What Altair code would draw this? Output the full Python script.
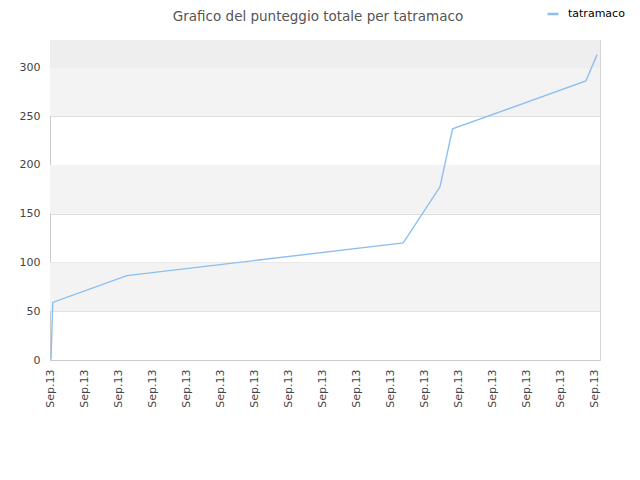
import altair as alt
import pandas as pd

# ---- data ----
series_name = "tatramaco"
x_pos = [0.03, 0.08, 2.26, 10.39, 11.47, 11.84, 15.76, 16.09]
scores = [0.5, 59, 86.5, 120, 177.5, 237, 286, 313]
tick_values = list(range(17))
tick_label = "Sep.13"
y_ticks = [0, 50, 100, 150, 200, 250, 300]
band_lo = [50, 150, 250, 300]
band_hi = [100, 200, 300, 328]
band_fill = ["#f3f3f3", "#f3f3f3", "#f3f3f3", "#eeeeee"]

X_MAX = 550 / 34
Y_MAX = 328

line_df = pd.DataFrame({"x": x_pos, "score": scores, "series": [series_name] * len(x_pos)})
band_df = pd.DataFrame({"lo": band_lo, "hi": band_hi, "fill": band_fill,
                        "x0": [0] * 4, "x1": [X_MAX] * 4})

xscale = alt.Scale(domain=[0, X_MAX], nice=False, zero=False)
yscale = alt.Scale(domain=[0, Y_MAX], nice=False)

x_axis = alt.Axis(values=tick_values, labelExpr=f"'{tick_label}'", labelAngle=270,
                  ticks=False, grid=False, title=None, labelPadding=9,
                  labelFontSize=11, labelColor="#444444", labelFont="DejaVu Sans",
                  domainColor="#cccccc", labelOverlap=False)
y_axis = alt.Axis(values=y_ticks, ticks=False, grid=True,
                  gridColor="#dddddd", title=None, labelPadding=10,
                  labelFontSize=11, labelColor="#444444", labelFont="DejaVu Sans",
                  domainColor="#cccccc", labelOverlap=False)

bands = alt.Chart(band_df).mark_rect().encode(
    x=alt.X("x0:Q", scale=xscale, axis=x_axis),
    x2="x1:Q",
    y=alt.Y("lo:Q", scale=yscale, axis=y_axis),
    y2="hi:Q",
    fill=alt.Fill("fill:N", scale=None),
)

line = alt.Chart(line_df).mark_line(strokeWidth=1.4, interpolate="linear").encode(
    x=alt.X("x:Q", scale=xscale, axis=x_axis),
    y=alt.Y("score:Q", scale=yscale, axis=y_axis),
    color=alt.Color("series:N", scale=alt.Scale(range=["#8cbff0"]),
                    legend=alt.Legend(title=None, orient="none", legendX=496, legendY=-33,
                                      symbolType="stroke", symbolStrokeWidth=2.5, symbolSize=120,
                                      labelFontSize=11, labelColor="#000000",
                                      labelFont="DejaVu Sans", labelOffset=8)),
)

chart = alt.layer(bands, line).properties(
    width=550,
    height=320,
    autosize=alt.AutoSizeParams(type="none"),
    padding={"left": 42, "top": 32, "right": 32, "bottom": 100},
    title=alt.TitleParams("Grafico del punteggio totale per tatramaco", anchor="middle",
                          fontSize=13.5, font="DejaVu Sans", fontWeight="normal",
                          color="#555555", dx=-7, offset=0, dy=27, baseline="alphabetic"),
).configure_view(stroke="#d4d4d4").configure_axis(labelOverlap=False)

chart.save("out.html", embed_options={"renderer": "svg", "actions": False})
